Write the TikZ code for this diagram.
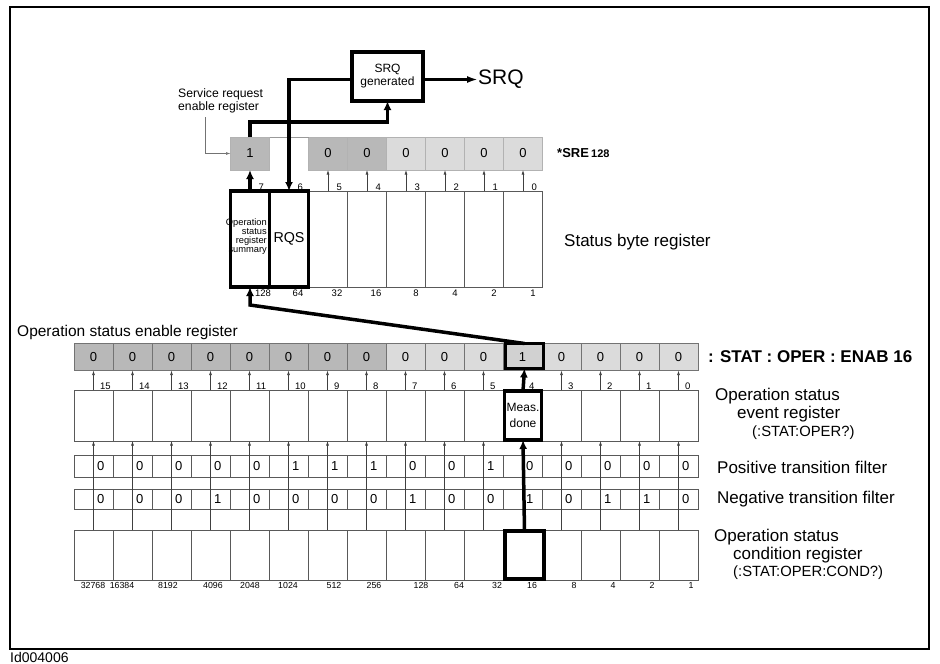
\documentclass[tikz,border=0pt]{standalone}
\usepackage{fontspec}
\setmainfont{Liberation Sans}
\usetikzlibrary{arrows.meta,positioning}

\begin{document}
\begin{tikzpicture}[x=1pt, y=-1pt,
    cell/.style={draw=black!65, line width=0.8pt, minimum width=39pt, inner sep=0pt, outer sep=0pt},
    hot/.style={draw=black, line width=3.6pt, minimum width=39pt, inner sep=0pt, outer sep=0pt, fill=white},
    val/.style={font=\fontsize{13}{13}\selectfont, inner sep=0pt},
    tiny/.style={font=\fontsize{9.5}{9.5}\selectfont, inner sep=0.5pt},
    lbl/.style={font=\fontsize{17}{17}\selectfont, anchor=west, inner sep=0pt},
    cmd/.style={font=\fontsize{14.8}{14.8}\selectfont, anchor=west, inner sep=0pt},
    bitarr/.style={-{Latex[length=4.5pt,width=3pt]}, draw=black!75, line width=0.7pt},
    bigarr/.style={-{Latex[length=9pt,width=8pt]}, line width=3.5pt}]
    \useasboundingbox (0,0) rectangle (940,664);
    \draw[line width=1.3pt] (10,7) rectangle (929,649);

    % SRQ
    \node (srq) [hot, minimum width=71pt, minimum height=49pt, align=center, font=\fontsize{12}{13}\selectfont] at (387.5,76.5) {SRQ\\generated};
    \node (srqout) [anchor=west, inner sep=0pt, font=\fontsize{21}{21}\selectfont] at (478,79.5) {SRQ};
    \draw[-{Latex[length=11pt,width=7pt]}, line width=3pt] ([yshift=-3pt]srq.east) -- (srqout.west);

    % service request enable register
    \node (srelbl) [anchor=west, align=left, inner sep=0pt, font=\fontsize{12.2}{13}\selectfont] at (178,101) {Service request\\enable register};
    \node (sre7) [cell, draw=black!30, fill=black!28, minimum height=33pt, val] at (250,153.5) {1};
    \foreach \b/\f in {5/28,4/28,3/14,2/14,1/14,0/14}
        \node (sre\b) [cell, draw=black!30, fill=black!\f, minimum height=33pt, val] at ({250+(7-\b)*39},153.5) {0};
    \draw[black!40, line width=0.8pt] (sre7.north east) -- (sre5.north west);
    \draw[bitarr, black!55] ([xshift=27pt,yshift=-4pt]srelbl.south west) |- (sre7.west);
    \node (srecmd) [anchor=west, inner sep=0pt, font=\fontsize{13}{13}\selectfont\bfseries] at (557,153) {*SRE\,{\fontsize{11}{11}\selectfont 128}};

    % status byte register
    \foreach \b in {5,...,0}
        \node (sb\b) [cell, minimum height=96pt] at ({250+(7-\b)*39},239) {};
    \node (sb7) [hot, minimum height=96pt] at (250,239) {};
    \node (sb6) [hot, minimum height=96pt, font=\fontsize{14.3}{14.3}\selectfont] at (289,239) {RQS};
    \node (osrs) [anchor=east, align=right, inner sep=0pt, font=\fontsize{9.3}{9}\selectfont] at (267,237) {Operation\\status\\register\\summary};
    \node (sblbl) [lbl] at (564,242) {Status byte register};
    \foreach \b in {7,...,0}
        \node (sbn\b) [tiny, anchor=south west] at ([xshift=8pt]sb\b.north) {\b};
    \foreach \b/\w/\dx in {7/128/13,6/64/9,5/32/9,4/16/9,3/8/10,2/4/10,1/2/10,0/1/10}
        \node (sbw\b) [tiny, anchor=north] at ([xshift=\dx pt,yshift=-2pt]sb\b.south) {\w};
    \foreach \b in {5,...,0}
        \draw[bitarr] (sb\b.north) -- (sre\b.south);
    \draw[bigarr] (sb7.north) -- (sre7.south);
    \draw[bigarr] (sre7.north) -- (250,122) -| (srq.south);
    \draw[bigarr] ([yshift=-3pt]srq.west) -| (sb6.north);

    % operation status enable register
    \node (enlbl) [anchor=west, inner sep=0pt, font=\fontsize{15.5}{15.5}\selectfont] at (17,332) {Operation status enable register};
    \foreach \b/\v/\f in {15/0/28,14/0/28,13/0/28,12/0/28,11/0/28,10/0/28,9/0/28,8/0/28,7/0/14,6/0/14,5/0/14,4/1/18,3/0/14,2/0/14,1/0/14,0/0/14}
        \node (en\b) [cell, draw=black!55, fill=black!\f, minimum height=27pt, val] at ({93.5+(15-\b)*39},357) {\v};
    \node (enhot) [hot, fill=none, minimum height=25pt, minimum width=38pt] at (524.5,356) {};
    \node (encmd) [anchor=west, inner sep=0pt, font=\fontsize{17}{17}\selectfont\bfseries] at (708,357) {: STAT : OPER : ENAB 16};
    \draw[bigarr] (enhot.north) -- (250,305) -- (sb7.south);

    % event register, filters, condition register
    \foreach \b in {15,...,0} {
        \node (ev\b) [cell, minimum height=51pt] at ({93.5+(15-\b)*39},415.5) {};
        \node (cd\b) [cell, minimum height=50pt] at ({93.5+(15-\b)*39},555) {};
    }
    \foreach \b/\p/\n in {15/0/0,14/0/0,13/0/0,12/0/1,11/0/0,10/1/0,9/1/0,8/1/0,7/0/1,6/0/0,5/1/0,4/0/1,3/0/0,2/0/1,1/0/1,0/0/0} {
        \node (pf\b) [cell, minimum height=22pt] at ({93.5+(15-\b)*39},466) {};
        \node (nf\b) [cell, minimum height=20pt] at ({93.5+(15-\b)*39},499) {};
    }
    \node (meas) [hot, minimum height=49pt, minimum width=37pt, align=center, font=\fontsize{12}{16}\selectfont] at (523,415.5) {Meas.\\done};
    \node (cdhot) [hot, minimum height=48pt, minimum width=39.5pt] at (524.5,555) {};
    \foreach \b in {15,14,13,12,11,10,9,8,7,6,5,3,2,1,0} {
        \draw[bitarr] (ev\b.north) -- (en\b.south);
        \draw[bitarr] (cd\b.north) -- (ev\b.south);
    }
    \draw[bigarr] (cdhot.north) -- (meas.south);
    \draw[bigarr] (meas.north) -- (enhot.south);
    \foreach \b/\p/\n in {15/0/0,14/0/0,13/0/0,12/0/1,11/0/0,10/1/0,9/1/0,8/1/0,7/0/1,6/0/0,5/1/0,4/0/1,3/0/0,2/0/1,1/0/1,0/0/0} {
        \node (pv\b) [val, anchor=west] at ([xshift=3.5pt]pf\b.center) {\p};
        \node (nv\b) [val, anchor=west] at ([xshift=3.5pt]nf\b.center) {\n};
    }
    \foreach \b in {15,...,0}
        \node (evn\b) [tiny, anchor=south west] at ([xshift=6pt]ev\b.north) {\b};
    \foreach \b/\w/\wx in {15/32768/93,14/16384/122,13/8192/168,12/4096/213,11/2048/250,10/1024/288,9/512/334,8/256/374,7/128/421,6/64/459,5/32/497,4/16/532,3/8/574,2/4/613,1/2/652,0/1/691}
        \node (cdw\b) [anchor=north, inner sep=0.5pt, font=\fontsize{8.8}{8.8}\selectfont] at (\wx,582) {\w};

    % labels on the right
    \node (evl1) [lbl] at (715,396) {Operation status};
    \node (evl2) [lbl] at (737,414) {event register};
    \node (evl3) [cmd] at (752,433) {(:STAT:OPER?)};
    \node (pflbl) [lbl] at (717,467) {Positive transition filter};
    \node (nflbl) [lbl] at (717,499) {Negative transition filter};
    \node (cdl1) [lbl] at (714,537) {Operation status};
    \node (cdl2) [lbl] at (733,555) {condition register};
    \node (cdl3) [cmd] at (733,573) {(:STAT:OPER:COND?)};

    \node (figid) [anchor=south west, inner sep=0pt, font=\fontsize{14}{14}\selectfont] at (10,663) {Id004006};
\end{tikzpicture}
\end{document}
